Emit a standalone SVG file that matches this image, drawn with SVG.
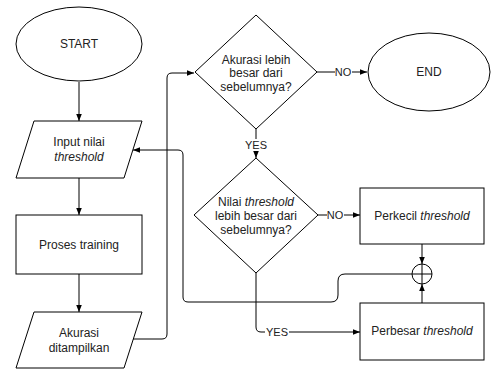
<svg xmlns="http://www.w3.org/2000/svg" width="492" height="371" viewBox="0 0 492 371">
<defs>
<marker id="arr" viewBox="0 0 10 10" refX="10" refY="5" markerWidth="7" markerHeight="7" orient="auto" markerUnits="userSpaceOnUse">
<path d="M0,1 L10,5 L0,9 Z" fill="#000"/>
</marker>
<style>
.s{fill:#fff;stroke:#000;stroke-width:1}
.t{font-family:"Liberation Sans",Arial,sans-serif;font-size:12px;fill:#222;text-anchor:middle}
.l{font-family:"Liberation Sans",Arial,sans-serif;font-size:11px;fill:#222;text-anchor:middle}
.c{fill:none;stroke:#000;stroke-width:1}
</style>
</defs>
<rect width="492" height="371" fill="#fff"/>
<g id="connectors">
<path class="c" d="M79,82 V121" marker-end="url(#arr)"/>
<path class="c" d="M79,178 V215" marker-end="url(#arr)"/>
<path class="c" d="M79,274 V312" marker-end="url(#arr)"/>
<path class="c" d="M133,339 H162 Q167,339 167,334 V78 Q167,73 172,73 H194" marker-end="url(#arr)"/>
<path class="c" d="M317,72 H367" marker-end="url(#arr)"/>
<path class="c" d="M256,129 V158" marker-end="url(#arr)"/>
<path class="c" d="M318,215 H360" marker-end="url(#arr)"/>
<path class="c" d="M256,273 V327 Q256,332 261,332 H360" marker-end="url(#arr)"/>
<path class="c" d="M422,244 V264" marker-end="url(#arr)"/>
<path class="c" d="M422,303 V284" marker-end="url(#arr)"/>
<path class="c" d="M412,274 H345 Q338,274 338,281 V295 Q338,302 331,302 H188 Q183,302 183,297 V155 Q183,150 178,150 H133" marker-end="url(#arr)"/>
<rect x="335" y="66" width="17" height="12" fill="#fff"/>
<text class="l" x="343" y="76">NO</text>
<rect x="244" y="139" width="24" height="12" fill="#fff"/>
<text class="l" x="256" y="149">YES</text>
<rect x="327" y="209" width="17" height="12" fill="#fff"/>
<text class="l" x="335" y="219">NO</text>
<rect x="265" y="326" width="24" height="12" fill="#fff"/>
<text class="l" x="277" y="336">YES</text>
</g>
<g id="start">
<ellipse class="s" cx="79" cy="44" rx="63" ry="37"/>
<text class="t" x="79" y="48">START</text>
</g>
<g id="input">
<path class="s" d="M34,121 H142 L124,178 H16 Z"/>
<text class="t" x="79" y="146">Input nilai</text>
<text class="t" x="79" y="161" font-style="italic">threshold</text>
</g>
<g id="proses">
<rect class="s" x="16" y="215" width="126" height="59"/>
<text class="t" x="79" y="249">Proses training</text>
</g>
<g id="akurasi">
<path class="s" d="M34,312 H142 L124,368 H16 Z"/>
<text class="t" x="79" y="337">Akurasi</text>
<text class="t" x="79" y="352">ditampilkan</text>
</g>
<g id="decision1">
<path class="s" d="M256,15 L317,72 L256,129 L195,72 Z"/>
<text class="t" x="256" y="64">Akurasi lebih</text>
<text class="t" x="256" y="77">besar dari</text>
<text class="t" x="256" y="91">sebelumnya?</text>
</g>
<g id="end">
<ellipse class="s" cx="429" cy="72" rx="61" ry="39"/>
<text class="t" x="429" y="76">END</text>
</g>
<g id="decision2">
<path class="s" d="M256,158 L318,215 L256,273 L194,215 Z"/>
<text class="t" x="256" y="206">Nilai <tspan font-style="italic">threshold</tspan></text>
<text class="t" x="256" y="220">lebih besar dari</text>
<text class="t" x="256" y="234">sebelumnya?</text>
</g>
<g id="perkecil">
<rect class="s" x="360" y="188" width="124" height="56"/>
<text class="t" x="422" y="220">Perkecil <tspan font-style="italic">threshold</tspan></text>
</g>
<g id="junction">
<circle class="s" cx="422" cy="274" r="10"/>
<path class="c" d="M412,274 H432 M422,264 V284"/>
</g>
<g id="perbesar">
<rect class="s" x="360" y="303" width="124" height="57"/>
<text class="t" x="422" y="335">Perbesar <tspan font-style="italic">threshold</tspan></text>
</g>
</svg>
